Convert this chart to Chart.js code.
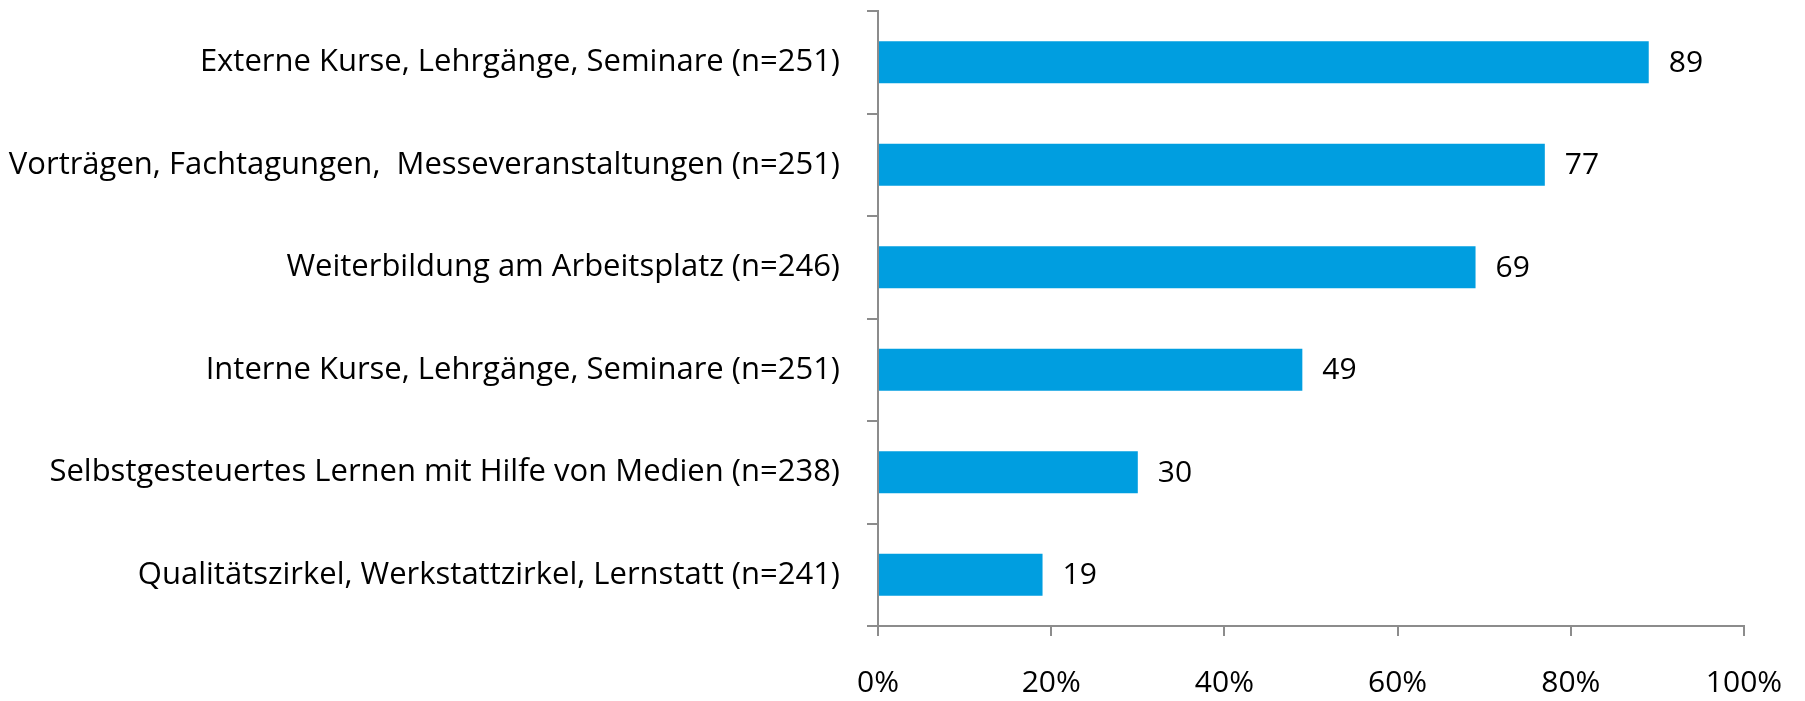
<!DOCTYPE html>
<html>
<head>
<meta charset="utf-8">
<script src="https://cdn.jsdelivr.net/npm/chart.js@4/dist/chart.umd.min.js"></script>
<style>
  html, body { margin: 0; padding: 0; background: #fff; }
  #wrap { width: 1805px; height: 701px; }
</style>
</head>
<body>
<div id="wrap"><canvas id="chart" width="1805" height="701"></canvas></div>
<script>
const categories = [
    'Externe Kurse, Lehrgänge, Seminare (n=251)',
    'Vorträgen, Fachtagungen,  Messeveranstaltungen (n=251)',
    'Weiterbildung am Arbeitsplatz (n=246)',
    'Interne Kurse, Lehrgänge, Seminare (n=251)',
    'Selbstgesteuertes Lernen mit Hilfe von Medien (n=238)',
    'Qualitätszirkel, Werkstattzirkel, Lernstatt (n=241)'
];
const values = [89, 77, 69, 49, 30, 19];
const xTicks = [0, 20, 40, 60, 80, 100];

const FONT = '"Open Sans", Lato, sans-serif';
const AXIS = '#8c8c8c';

// value labels right of each bar
const valueLabels = {
    id: 'valueLabels',
    afterDatasetsDraw(chart) {
        const ctx = chart.ctx;
        const meta = chart.getDatasetMeta(0);
        ctx.save();
        ctx.font = '30px ' + FONT;
        ctx.fillStyle = '#000';
        ctx.textAlign = 'left';
        ctx.textBaseline = 'middle';
        meta.data.forEach((bar, i) => {
            ctx.fillText(String(values[i]), bar.x + 20, bar.y + 1);
        });
        ctx.restore();
    }
};

const ctx = document.getElementById('chart').getContext('2d');
const chart = new Chart(ctx, {
    type: 'bar',
    data: {
        labels: categories,
        datasets: [{
            data: values,
            backgroundColor: '#009ee0',
            borderWidth: 0,
            barPercentage: 0.41,
            categoryPercentage: 1
        }]
    },
    options: {
        indexAxis: 'y',
        responsive: false,
        animation: false,
        layout: { padding: { top: 11, right: 61, left: 0, bottom: 0 } },
        plugins: { legend: { display: false }, tooltip: { enabled: false } },
        scales: {
            y: {
                afterFit(scale) {
                    scale.width = 878;
                    scale.paddingTop = 0;
                    scale.paddingBottom = 0;
                },
                border: { color: AXIS, width: 2 },
                grid: { drawOnChartArea: false, color: AXIS, lineWidth: 2, tickLength: 11, offset: true },
                ticks: { color: '#000', padding: 27, font: { family: FONT, size: 31 } }
            },
            x: {
                min: 0,
                max: 100,
                afterFit(scale) {
                    scale.height = 75;
                    scale.paddingLeft = 0;
                    scale.paddingRight = 0;
                },
                afterBuildTicks(scale) { scale.ticks = xTicks.map(v => ({ value: v })); },
                border: { color: AXIS, width: 2 },
                grid: { drawOnChartArea: false, color: AXIS, lineWidth: 2, tickLength: 10 },
                ticks: {
                    color: '#000',
                    padding: 29,
                    font: { family: FONT, size: 30 },
                    callback: v => v + '%'
                }
            }
        }
    },
    plugins: [valueLabels]
});
</script>
</body>
</html>
